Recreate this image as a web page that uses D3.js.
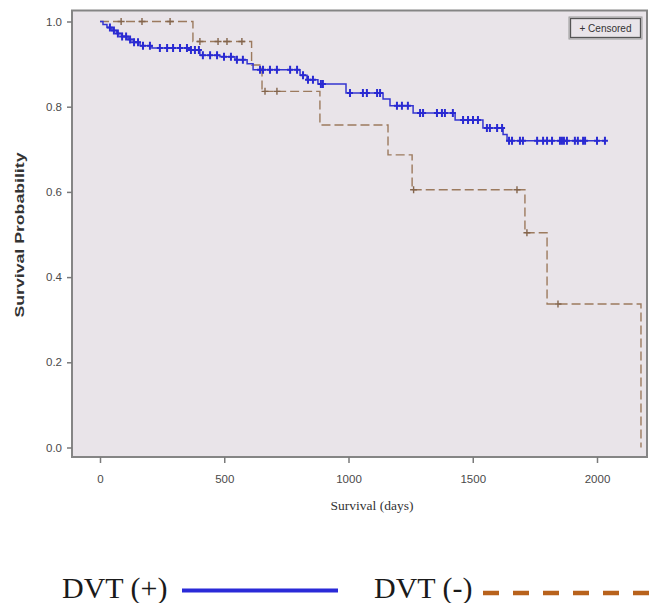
<!DOCTYPE html>
<meta charset="utf-8">
<style>
body { margin: 0; background: #fff; }
.tick text { font: 11.5px "Liberation Sans", Arial, sans-serif; fill: #4a4a4a; }
.tick line { stroke: #7a7a7a; stroke-width: 1.5px; }
</style>
<svg width="652" height="603"></svg>
<script src="https://d3js.org/d3.v7.min.js"></script>
<script>

// DVT (+) : event days and survival after each event
var posEventDays = [12, 28, 48, 68, 89, 113, 137, 161, 209, 362, 402, 483, 543, 592, 616, 805, 833, 877, 990, 1139, 1167, 1260, 1429, 1541, 1622, 1638];
var posSurvival  = [0.993, 0.986, 0.979, 0.972, 0.965, 0.958, 0.951, 0.943, 0.938, 0.933, 0.921, 0.917, 0.910, 0.901, 0.887, 0.874, 0.863, 0.853, 0.832, 0.818, 0.802, 0.785, 0.769, 0.750, 0.735, 0.720];
var posCensorDays = [40, 56, 72, 89, 105, 121, 137, 153, 173, 201, 241, 270, 294, 322, 350, 366, 382, 398, 414, 443, 471, 499, 527, 551, 575,
  644, 656, 684, 712, 765, 793, 817, 837, 857, 889, 897, 1006, 1058, 1074, 1115, 1127, 1195, 1215, 1239, 1288, 1300, 1356, 1376, 1388, 1420,
  1461, 1481, 1501, 1521, 1557, 1569, 1598, 1618, 1646, 1658, 1690, 1702, 1759, 1783, 1799, 1819, 1851, 1859, 1867, 1879, 1911, 1923, 1944, 1952, 2000, 2032];
var posEndDay = 2032;

// DVT (-)
var negEventDays = [374, 610, 652, 885, 1159, 1256, 1710, 1799, 2177];
var negSurvival  = [0.953, 0.898, 0.836, 0.757, 0.687, 0.605, 0.504, 0.337, 0.0];
var negCensorDays = [85, 169, 282, 402, 475, 511, 571, 664, 712, 1262, 1678, 1718, 1843];
var negEndDay = 2177;

var xTicks = [0, 500, 1000, 1500, 2000];
var yTicks = [0, 0.2, 0.4, 0.6, 0.8, 1.0];

var svg = d3.select("svg");

var x = d3.scaleLinear().domain([0, 2000]).range([100, 597]);
var y = d3.scaleLinear().domain([0, 1]).range([447.5, 21.5]);

var frame = {left: 72, top: 10.5, right: 647, bottom: 457};

svg.append("rect")
    .attr("x", frame.left).attr("y", frame.top)
    .attr("width", frame.right - frame.left).attr("height", frame.bottom - frame.top)
    .attr("fill", "#e9e4e9");

function curvePoints(days, surv, endDay) {
  var pts = [[0, 1]];
  days.forEach(function(d, i) { pts.push([d, surv[i]]); });
  pts.push([endDay, surv[surv.length - 1]]);
  return pts;
}

function survAt(days, surv, t) {
  var s = 1;
  days.forEach(function(d, i) { if (d <= t) s = surv[i]; });
  return s;
}

var line = d3.line()
    .x(function(d) { return x(d[0]); })
    .y(function(d) { return y(d[1]); })
    .curve(d3.curveStepAfter);

function plus(cx, cy, h, w) {
  return "M" + cx + "," + (cy - h) + "v" + (2 * h) + "M" + (cx - w) + "," + cy + "h" + (2 * w);
}

// DVT (-) dashed brown
svg.append("path")
    .attr("d", line(curvePoints(negEventDays, negSurvival, negEndDay)))
    .attr("fill", "none")
    .attr("stroke", "#9c7a5e")
    .attr("stroke-width", 1.4)
    .attr("stroke-dasharray", "9,4");

svg.append("g").selectAll("path")
  .data(negCensorDays)
  .enter().append("path")
    .attr("d", function(d) { return plus(x(d), y(survAt(negEventDays, negSurvival, d)), 3.5, 3.5); })
    .attr("stroke", "#84654c")
    .attr("stroke-width", 1.4)
    .attr("fill", "none");

// DVT (+) blue
svg.append("path")
    .attr("d", line(curvePoints(posEventDays, posSurvival, posEndDay)))
    .attr("fill", "none")
    .attr("stroke", "#3535d0")
    .attr("stroke-width", 1.5);

svg.append("g").selectAll("path")
  .data(posCensorDays)
  .enter().append("path")
    .attr("d", function(d) { return plus(x(d), y(survAt(posEventDays, posSurvival, d)), 4, 3); })
    .attr("stroke", "#2a2ad2")
    .attr("stroke-width", 2)
    .attr("fill", "none");

// frame
svg.append("rect")
    .attr("x", frame.left).attr("y", frame.top)
    .attr("width", frame.right - frame.left).attr("height", frame.bottom - frame.top)
    .attr("fill", "none")
    .attr("stroke", "#858585")
    .attr("stroke-width", 2);

var yAxis = svg.append("g")
    .attr("transform", "translate(" + frame.left + ",0)")
    .call(d3.axisLeft(y).tickValues(yTicks).tickSize(5).tickPadding(5).tickFormat(d3.format(".1f")));
yAxis.select(".domain").remove();

var xAxis = svg.append("g")
    .attr("transform", "translate(0," + frame.bottom + ")")
    .call(d3.axisBottom(x).tickValues(xTicks).tickSize(6).tickPadding(12).tickFormat(d3.format("d")));
xAxis.select(".domain").remove();

svg.append("text")
    .attr("transform", "translate(24,235) rotate(-90)")
    .attr("text-anchor", "middle")
    .attr("textLength", 165)
    .attr("lengthAdjust", "spacingAndGlyphs")
    .style("font", "bold 12.5px 'Liberation Sans', Arial, sans-serif")
    .attr("fill", "#333")
    .text("Survival Probability");

svg.append("text")
    .attr("x", 372).attr("y", 510)
    .attr("text-anchor", "middle")
    .style("font", "13.5px 'Liberation Serif', 'Times New Roman', serif")
    .attr("fill", "#333")
    .text("Survival (days)");

// censored legend box
svg.append("rect")
    .attr("x", 569).attr("y", 17).attr("width", 73).attr("height", 22)
    .attr("fill", "none").attr("stroke", "#9a9a9a").attr("stroke-width", 1);
svg.append("rect")
    .attr("x", 570.5).attr("y", 18.5).attr("width", 70).attr("height", 19)
    .attr("fill", "none").attr("stroke", "#555").attr("stroke-width", 1.3);
svg.append("text")
    .attr("x", 605.5).attr("y", 32)
    .attr("text-anchor", "middle")
    .style("font", "10px 'Liberation Sans', Arial, sans-serif")
    .attr("fill", "#333")
    .text("+ Censored");

// bottom legend
var legend = svg.append("g");
legend.append("text")
    .attr("x", 62).attr("y", 598)
    .style("font", "30px 'Liberation Serif', 'Times New Roman', serif")
    .attr("fill", "#1a1a1a")
    .text("DVT (+)");
legend.append("line")
    .attr("x1", 182).attr("x2", 338).attr("y1", 590.5).attr("y2", 590.5)
    .attr("stroke", "#2a2ad8").attr("stroke-width", 4);
legend.append("text")
    .attr("x", 374).attr("y", 598)
    .style("font", "30px 'Liberation Serif', 'Times New Roman', serif")
    .attr("fill", "#1a1a1a")
    .text("DVT (-)");
legend.append("line")
    .attr("x1", 483).attr("x2", 652).attr("y1", 593).attr("y2", 593)
    .attr("stroke", "#b8621c").attr("stroke-width", 4.5)
    .attr("stroke-dasharray", "16,14");

</script>
